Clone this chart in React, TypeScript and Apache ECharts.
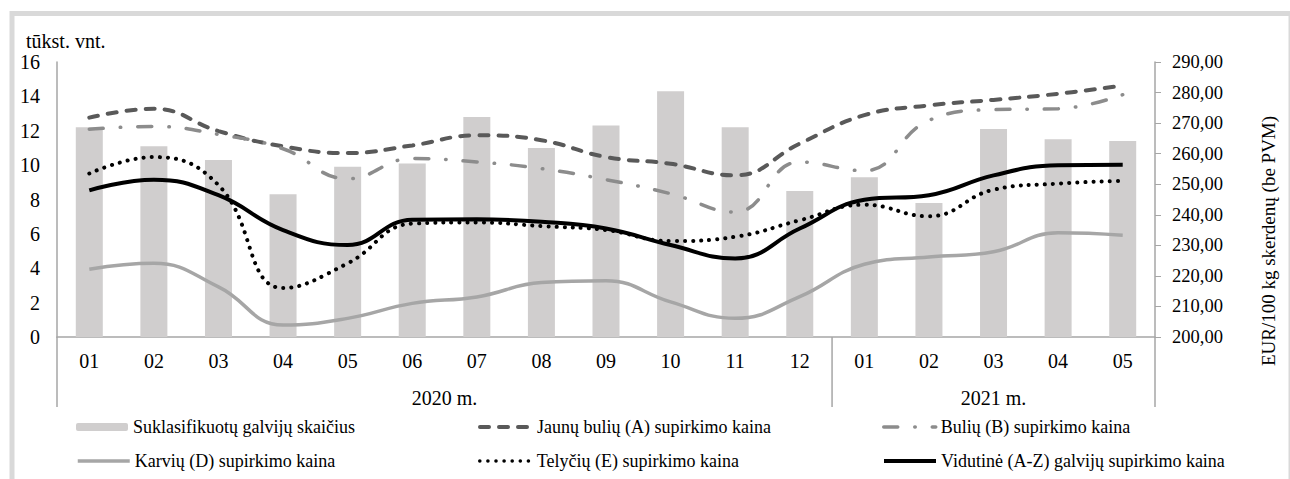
import React, { useEffect, useRef } from "react";
import * as echarts from "echarts";

const months = ["01", "02", "03", "04", "05", "06", "07", "08", "09", "10", "11", "12", "01", "02", "03", "04", "05"];
const years = ["2020 m.", "2021 m."];
const yearSpans = [12, 5];
const leftTicks = { min: 0, max: 16, interval: 2 };
const rightTicks = { min: 200, max: 290, interval: 10 };

const headCount = [12.2, 11.1, 10.3, 8.3, 9.9, 10.1, 12.8, 11.0, 12.3, 14.3, 12.2, 8.5, 9.3, 7.8, 12.1, 11.5, 11.4];
const priceA = [271.8, 274.7, 267.4, 262.4, 260.2, 262.7, 266.0, 264.4, 258.9, 256.7, 252.9, 263.3, 272.6, 275.8, 277.6, 279.6, 282.3];
const priceB = [268.0, 268.9, 266.3, 261.6, 251.8, 258.4, 257.3, 255.1, 251.5, 246.9, 240.9, 257.3, 254.4, 270.9, 274.4, 274.7, 279.3];
const priceD = [222.2, 224.1, 216.4, 203.9, 206.1, 211.0, 213.1, 217.8, 218.4, 211.5, 206.1, 213.2, 223.8, 226.2, 227.9, 234.1, 233.3];
const priceE = [253.5, 258.9, 249.7, 216.0, 224.1, 237.1, 237.5, 236.3, 235.0, 231.4, 232.8, 238.2, 243.3, 239.5, 248.2, 250.2, 251.1];
const priceAZ = [248.0, 251.5, 246.4, 235.0, 230.1, 238.4, 238.5, 237.7, 235.5, 230.1, 225.7, 235.5, 244.9, 246.4, 252.9, 256.2, 256.4];

const names = [
  "Suklasifikuotų galvijų skaičius",
  "Jaunų bulių (A) supirkimo kaina",
  "Bulių (B) supirkimo kaina",
  "Karvių (D) supirkimo kaina",
  "Telyčių (E) supirkimo kaina",
  "Vidutinė (A-Z) galvijų supirkimo kaina",
];
const leftAxisName = "tūkst. vnt.";
const rightAxisName = "EUR/100 kg skerdenų (be PVM)";

const FONT = '"Liberation Serif", "Times New Roman", serif';
const AXIS_GRAY = "#a6a6a6";

export default function App() {
  const ref = useRef<HTMLDivElement>(null);

  useEffect(() => {
    if (!ref.current) return;
    const chart = echarts.init(ref.current, undefined, { renderer: "svg" });

    const legendPos = [
      { left: 76, top: 417 },
      { left: 478, top: 417 },
      { left: 882, top: 417 },
      { left: 76, top: 451 },
      { left: 478, top: 451 },
      { left: 882, top: 451 },
    ];
    const legendLineW = [0, 4, 3.5, 3.5, 3.5, 4];

    const option: any = {
      animation: false,
      textStyle: { fontFamily: FONT, color: "#000" },
      grid: { left: 57, right: 135, top: 62, bottom: 142, containLabel: false },
      legend: names.map((n, i) => ({
        data: [n],
        left: legendPos[i].left,
        top: legendPos[i].top,
        padding: 0,
        itemWidth: 52,
        itemHeight: 8,
        itemGap: 0,
        selectedMode: false,
        ...(i > 0 ? { itemStyle: { opacity: 0 }, lineStyle: { width: legendLineW[i] } } : {}),
        textStyle: { fontFamily: FONT, fontSize: 18, color: "#000", lineHeight: 20 },
      })),
      xAxis: {
        type: "category",
        data: months,
        boundaryGap: true,
        axisLine: { show: true, lineStyle: { color: AXIS_GRAY, width: 1.5 } },
        axisTick: { show: false },
        axisLabel: { fontFamily: FONT, fontSize: 20, color: "#000", margin: 14, interval: 0 },
        splitLine: { show: false },
      },
      yAxis: [
        {
          type: "value",
          min: leftTicks.min,
          max: leftTicks.max,
          interval: leftTicks.interval,
          axisLine: { show: true, lineStyle: { color: AXIS_GRAY, width: 1.5 } },
          axisTick: { show: false },
          splitLine: { show: false },
          axisLabel: { fontFamily: FONT, fontSize: 20, color: "#000", margin: 17 },
        },
        {
          type: "value",
          position: "right",
          min: rightTicks.min,
          max: rightTicks.max,
          interval: rightTicks.interval,
          axisLine: { show: true, lineStyle: { color: AXIS_GRAY, width: 1.5 } },
          axisTick: { show: true, length: 6, inside: false, lineStyle: { color: AXIS_GRAY, width: 1 } },
          splitLine: { show: false },
          axisLabel: {
            fontFamily: FONT,
            fontSize: 18.5,
            color: "#000",
            margin: 17,
            formatter: (v: number) => v.toFixed(2).replace(".", ","),
          },
        },
      ],
      series: [
        {
          name: names[0],
          type: "bar",
          yAxisIndex: 0,
          data: headCount,
          barWidth: 27,
          itemStyle: { color: "#d0cece" },
          z: 1,
        },
        {
          name: names[1],
          type: "line",
          yAxisIndex: 1,
          data: priceA,
          smooth: 0.45,
          symbol: "none",
          lineStyle: { color: "#595959", width: 4, type: [9, 10], cap: "round" },
          itemStyle: { color: "#595959" },
          z: 3,
        },
        {
          name: names[2],
          type: "line",
          yAxisIndex: 1,
          data: priceB,
          smooth: 0.45,
          symbol: "none",
          lineStyle: { color: "#8c8c8c", width: 3.5, type: [14, 17, 0.5, 17], cap: "round" },
          itemStyle: { color: "#8c8c8c" },
          z: 3,
        },
        {
          name: names[3],
          type: "line",
          yAxisIndex: 1,
          data: priceD,
          smooth: 0.45,
          symbol: "none",
          lineStyle: { color: "#a6a6a6", width: 3.5 },
          itemStyle: { color: "#a6a6a6" },
          z: 3,
        },
        {
          name: names[4],
          type: "line",
          yAxisIndex: 1,
          data: priceE,
          smooth: 0.45,
          symbol: "none",
          lineStyle: { color: "#000", width: 4, type: [0.1, 8], cap: "round" },
          itemStyle: { color: "#000" },
          z: 4,
        },
        {
          name: names[5],
          type: "line",
          yAxisIndex: 1,
          data: priceAZ,
          smooth: 0.45,
          symbol: "none",
          lineStyle: { color: "#000", width: 4 },
          itemStyle: { color: "#000" },
          z: 5,
        },
      ],
    };

    chart.setOption(option);

    const px = (i: number) => chart.convertToPixel({ xAxisIndex: 0 }, i) as number;
    const band = px(1) - px(0);
    const yBottom = chart.convertToPixel({ yAxisIndex: 0 }, leftTicks.min) as number;
    const divBottom = yBottom + 70;

    const graphics: any[] = [
      {
        type: "rect",
        shape: { x: 12, y: 13.5, width: 1279, height: 520 },
        style: { fill: "none", stroke: "#d9d9d9", lineWidth: 5 },
        silent: true,
        z: -1,
      },
      {
        type: "text",
        left: 26,
        top: 31,
        style: { text: leftAxisName, font: `20px ${FONT}`, fill: "#000" },
      },
      {
        type: "text",
        x: 1268,
        y: 241,
        rotation: Math.PI / 2,
        style: { text: rightAxisName, font: `19px ${FONT}`, fill: "#000", align: "center", verticalAlign: "middle" },
      },
    ];

    let start = 0;
    const boundaries: number[] = [px(0) - band / 2];
    years.forEach((y, k) => {
      const end = start + yearSpans[k] - 1;
      const cx = (px(start) + px(end)) / 2;
      graphics.push({
        type: "text",
        x: cx,
        y: yBottom + 61,
        style: { text: y, font: `20px ${FONT}`, fill: "#000", align: "center", verticalAlign: "middle" },
      });
      boundaries.push(px(end) + band / 2);
      start = end + 1;
    });
    boundaries.forEach((bx) => {
      graphics.push({
        type: "line",
        shape: { x1: bx, y1: yBottom, x2: bx, y2: divBottom },
        style: { stroke: AXIS_GRAY, lineWidth: 1.5 },
      });
    });

    chart.setOption({ graphic: graphics });

    return () => chart.dispose();
  }, []);

  return (
    <div
      ref={ref}
      style={{ position: "absolute", left: 0, top: 0, width: 1290, height: 479, background: "#fff" }}
    />
  );
}
